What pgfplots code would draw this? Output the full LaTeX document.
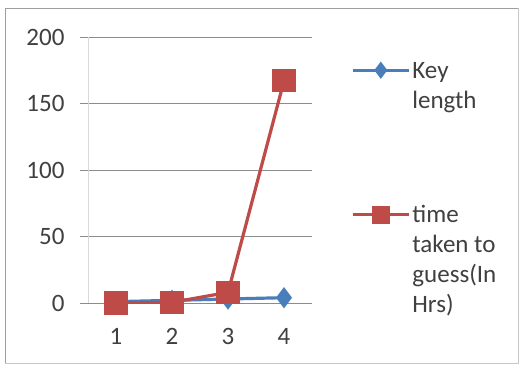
\documentclass[border=0pt]{standalone}
\usepackage{fontspec}
\setmainfont{Carlito}
\usepackage{pgfplots}
\pgfplotsset{compat=1.18}
\definecolor{xblue}{HTML}{4A7EBB}
\definecolor{xred}{HTML}{BE4B48}
\definecolor{gridc}{HTML}{8C8C8C}
\definecolor{yaxc}{HTML}{D9D9D9}
\begin{document}
\begin{tikzpicture}[x=1pt,y=1pt]
\fill[white] (0,0) rectangle (521,368);
\draw[gray!45, line width=1pt] (5,5) rectangle (518,360);
\draw[gray!75, line width=1pt] (5,5) -- (5,360) -- (518,360);
\begin{axis}[
  at={(88pt,65pt)}, anchor=south west,
  scale only axis, width=224pt, height=266pt,
  xmin=0.5, xmax=4.5, ymin=0, ymax=200,
  xtick={1,2,3,4}, ytick={0,50,100,150,200},
  minor xtick={1.5,2.5,3.5,4.5},
  axis x line*=bottom, axis y line*=left,
  x axis line style={-, gridc, line width=0.8pt},
  y axis line style={-, yaxc, line width=0.8pt},
  tick align=outside,
  major tick length=8pt, minor tick length=6pt,
  xtick style={draw=none},
  minor x tick style={gridc, line width=0.8pt},
  ytick style={gridc, line width=0.8pt},
  ymajorgrids, grid style={gridc, line width=0.8pt},
  tick label style={font=\fontsize{25}{30}\selectfont, text=black!75},
  yticklabel style={xshift=-12pt},
  xticklabel style={yshift=-14pt},
  /pgf/number format/assume math mode=true,
  legend style={at={(1,1)}, anchor=north west, xshift=39pt, yshift=-20pt,
    draw=none, fill=none, inner sep=0pt, row sep=122pt, column sep=2pt,
    font=\fontsize{25}{30}\selectfont,
    nodes={inner sep=0pt, anchor=base west, text=black!75}},
  legend image code/.code={\draw[mark repeat=2, mark phase=2, yshift=8pt, mark options={solid, scale=0.75}] plot coordinates {(0pt,0pt) (28pt,0pt) (56pt,0pt)};},
]
\addplot[xblue, line width=3.2pt, mark=diamond*, mark size=8pt, mark options={solid}] coordinates {(1,1) (2,2) (3,3) (4,4)};
\addlegendentry{\begin{tabular}[t]{@{}l@{}}Key\\length\end{tabular}}
\addplot[xred, line width=3.2pt, mark=square*, mark size=10pt, mark options={solid}] coordinates {(1,0) (2,0.5) (3,8) (4,167)};
\addlegendentry{\begin{tabular}[t]{@{}l@{}}time\\taken to\\guess(In\\Hrs)\end{tabular}}
\end{axis}
\end{tikzpicture}
\end{document}
